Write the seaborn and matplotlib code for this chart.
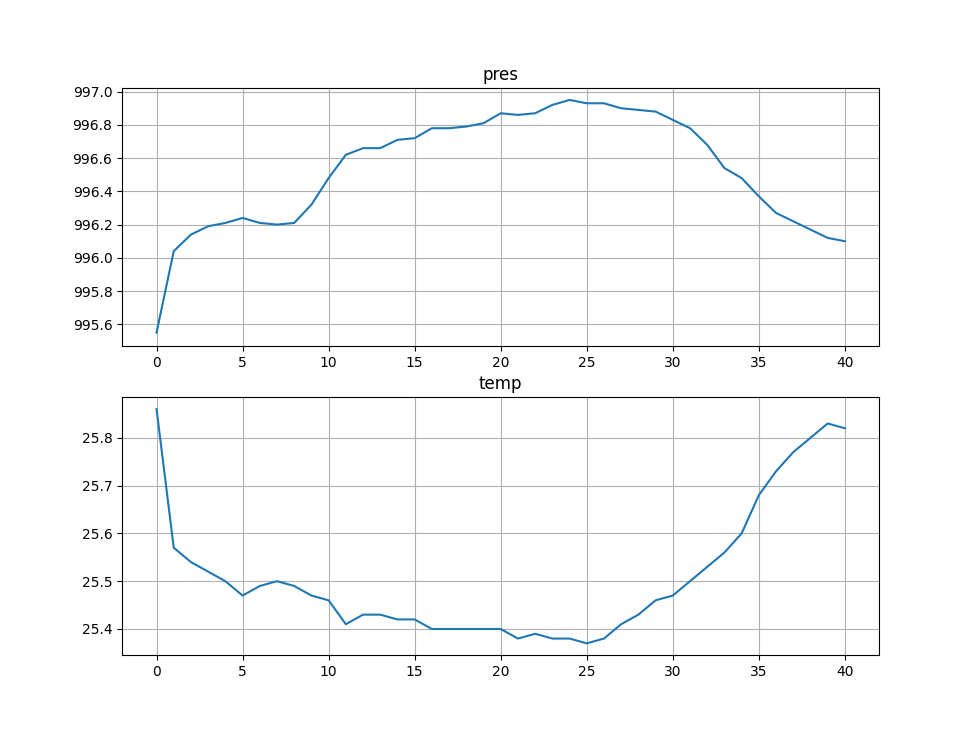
import matplotlib
matplotlib.use("Agg")
import matplotlib.pyplot as plt
import seaborn as sns
import pandas as pd

pres = [995.55, 996.04, 996.14, 996.19, 996.21, 996.24, 996.21, 996.20, 996.21, 996.32,
        996.48, 996.62, 996.66, 996.66, 996.71, 996.72, 996.78, 996.78, 996.79, 996.81,
        996.87, 996.86, 996.87, 996.92, 996.95, 996.93, 996.93, 996.90, 996.89, 996.88,
        996.83, 996.78, 996.68, 996.54, 996.48, 996.37, 996.27, 996.22, 996.17, 996.12,
        996.10]
temp = [25.86, 25.57, 25.54, 25.52, 25.50, 25.47, 25.49, 25.50, 25.49, 25.47,
        25.46, 25.41, 25.43, 25.43, 25.42, 25.42, 25.40, 25.40, 25.40, 25.40,
        25.40, 25.38, 25.39, 25.38, 25.38, 25.37, 25.38, 25.41, 25.43, 25.46,
        25.47, 25.50, 25.53, 25.56, 25.60, 25.68, 25.73, 25.77, 25.80, 25.83,
        25.82]
titles = ["pres", "temp"]

df = pd.DataFrame({"idx": range(len(pres)), "pres": pres, "temp": temp})

fig, axes = plt.subplots(2, 1, figsize=(9.77, 7.36), dpi=100)
for ax, name in zip(axes, titles):
    sns.lineplot(data=df, x="idx", y=name, ax=ax, color="#1f77b4")
    ax.set_title(name)
    ax.set_xlabel("")
    ax.set_ylabel("")
    ax.grid(True)
axes[0].set_ylim(995.47, 997.02)
fig.savefig("out.png", dpi=100)
